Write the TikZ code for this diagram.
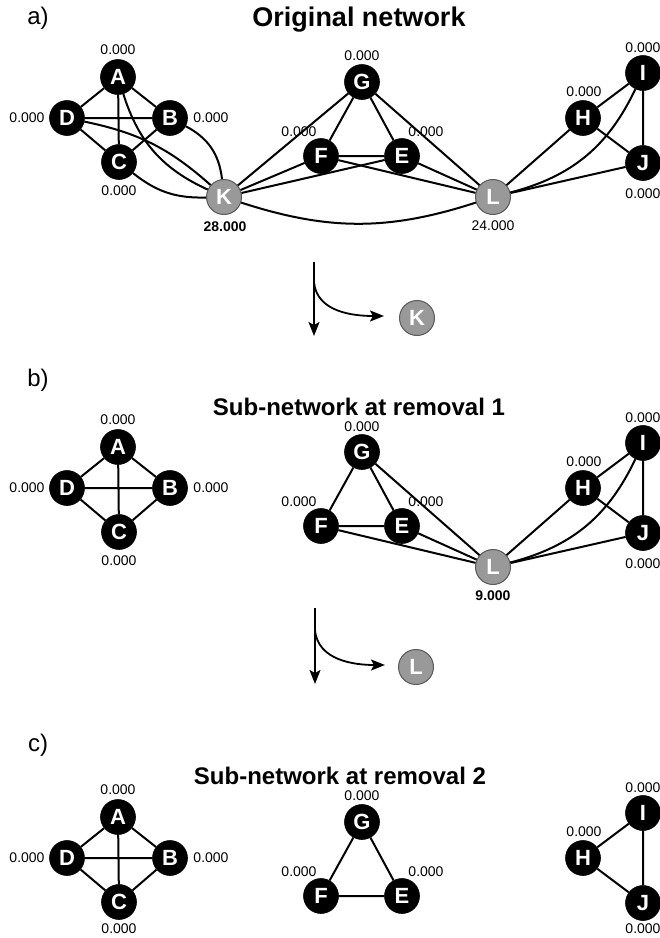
\documentclass[tikz,border=0pt]{standalone}
\usepackage{fontspec}
\setmainfont{Liberation Sans}
\usetikzlibrary{arrows.meta}
\begin{document}
\begin{tikzpicture}[x=1pt,y=1pt,
  vtx/.style={circle,fill=black,draw=black,line width=0.6pt,minimum size=35pt,
    inner sep=0pt,text=white,font=\fontsize{22}{22}\selectfont\bfseries},
  hub/.style={vtx,fill=black!40,draw=black!65,line width=1pt},
  val/.style={inner sep=0pt,font=\fontsize{14}{14}\selectfont},
  bval/.style={inner sep=0pt,font=\fontsize{14}{14}\selectfont\bfseries},
  link/.style={line width=2pt},
  ttl/.style={inner sep=0pt,font=\fontsize{24}{24}\selectfont\bfseries},
  tag/.style={inner sep=0pt,font=\fontsize{24}{24}\selectfont},
  flow/.style={line width=1.8pt,-{Stealth[length=14pt,width=11pt,inset=3pt]}}
]
\useasboundingbox (0,0) rectangle (660,-938);

% ---------------- a) original network ----------------
\node[tag] (ta) at (38,-18) {a)};
\node[ttl,font=\fontsize{27}{27}\selectfont\bfseries] (Ta) at (359,-20) {Original network};

\node[vtx] (aA) at (118,-77) {A};
\node[vtx] (aD) at (67,-118) {D};
\node[vtx] (aB) at (170,-118) {B};
\node[vtx] (aC) at (119,-162) {C};
\node[vtx] (aG) at (362,-82) {G};
\node[vtx] (aF) at (321,-156) {F};
\node[vtx] (aE) at (402,-156) {E};
\node[vtx] (aH) at (583,-118) {H};
\node[vtx] (aI) at (643,-73) {I};
\node[vtx] (aJ) at (643,-163) {J};
\node[hub] (aK) at (224,-197) {K};
\node[hub] (aL) at (493,-197) {L};

\node[val] (laA) at (118,-50) {0.000};
\node[val] (laD) at (27,-118) {0.000};
\node[val] (laB) at (211,-118) {0.000};
\node[val] (laC) at (119,-191) {0.000};
\node[val] (laG) at (362,-56) {0.000};
\node[val] (laF) at (299,-132) {0.000};
\node[val] (laE) at (426,-132) {0.000};
\node[val] (laH) at (584,-92) {0.000};
\node[val] (laI) at (643,-48) {0.000};
\node[val] (laJ) at (643,-194) {0.000};
\node[bval] (laK) at (225,-227) {28.000};
\node[val] (laL) at (493,-226) {24.000};

\draw[link] (aA) -- (aD) (aA) -- (aB) (aA) -- (aC)
            (aD) -- (aB) (aD) -- (aC) (aB) -- (aC);
\draw[link] (aA) to[bend right=24] (aK);
\draw[link] (aD) to[bend left=15] (aK);
\draw[link] (aB) to[bend left=28] (aK);
\draw[link] (aC) to[bend right=20] (aK);
\draw[link] (aK) -- (aG) (aK) -- (aF) (aK) -- (aE);
\draw[link] (aK) to[bend right=18] (aL);
\draw[link] (aG) -- (aF) (aG) -- (aE) (aF) -- (aE)
            (aG) -- (aL) (aF) -- (aL) (aE) -- (aL);
\draw[link] (aL) -- (aH) (aL) -- (aJ);
\draw[link] (aL) to[bend right=25] (aI);
\draw[link] (aH) -- (aI) (aH) -- (aJ) (aI) -- (aJ);

% ---------------- removal of K ----------------
\coordinate (s1) at (314,-262);
\coordinate (e1) at (314,-336);
\coordinate (f1) at (314,-282);
\coordinate (g1) at (384,-316);
\node[hub] (xK) at (417,-318) {K};
\draw[flow] (s1) -- (e1);
\draw[flow] (f1) to[out=-85,in=180] (g1);

% ---------------- b) after first removal ----------------
\node[tag] (tb) at (38,-380) {b)};
\node[ttl] (Tb) at (359,-407) {Sub-network at removal 1};

\node[vtx] (bA) at (118,-447) {A};
\node[vtx] (bD) at (67,-488) {D};
\node[vtx] (bB) at (170,-488) {B};
\node[vtx] (bC) at (119,-532) {C};
\node[vtx] (bG) at (362,-452) {G};
\node[vtx] (bF) at (321,-526) {F};
\node[vtx] (bE) at (402,-526) {E};
\node[vtx] (bH) at (583,-488) {H};
\node[vtx] (bI) at (643,-443) {I};
\node[vtx] (bJ) at (643,-533) {J};
\node[hub] (bL) at (493,-567) {L};

\node[val] (lbA) at (118,-420) {0.000};
\node[val] (lbD) at (27,-488) {0.000};
\node[val] (lbB) at (211,-488) {0.000};
\node[val] (lbC) at (119,-561) {0.000};
\node[val] (lbG) at (362,-427) {0.000};
\node[val] (lbF) at (299,-502) {0.000};
\node[val] (lbE) at (426,-502) {0.000};
\node[val] (lbH) at (584,-462) {0.000};
\node[val] (lbI) at (643,-418) {0.000};
\node[val] (lbJ) at (643,-564) {0.000};
\node[bval] (lbL) at (493,-596) {9.000};

\draw[link] (bA) -- (bD) (bA) -- (bB) (bA) -- (bC)
            (bD) -- (bB) (bD) -- (bC) (bB) -- (bC);
\draw[link] (bG) -- (bF) (bG) -- (bE) (bF) -- (bE)
            (bG) -- (bL) (bF) -- (bL) (bE) -- (bL);
\draw[link] (bL) -- (bH) (bL) -- (bJ);
\draw[link] (bL) to[bend right=25] (bI);
\draw[link] (bH) -- (bI) (bH) -- (bJ) (bI) -- (bJ);

% ---------------- removal of L ----------------
\coordinate (s2) at (315,-608);
\coordinate (e2) at (315,-684);
\coordinate (f2) at (315,-630);
\coordinate (g2) at (385,-665);
\node[hub] (xL) at (416,-667) {L};
\draw[flow] (s2) -- (e2);
\draw[flow] (f2) to[out=-85,in=180] (g2);

% ---------------- c) after second removal ----------------
\node[tag] (tc) at (38,-745) {c)};
\node[ttl] (Tc) at (340,-776) {Sub-network at removal 2};

\node[vtx] (cA) at (118,-817) {A};
\node[vtx] (cD) at (67,-858) {D};
\node[vtx] (cB) at (170,-858) {B};
\node[vtx] (cC) at (119,-902) {C};
\node[vtx] (cG) at (362,-822) {G};
\node[vtx] (cF) at (321,-896) {F};
\node[vtx] (cE) at (402,-896) {E};
\node[vtx] (cH) at (583,-858) {H};
\node[vtx] (cI) at (643,-813) {I};
\node[vtx] (cJ) at (643,-903) {J};

\node[val] (lcA) at (118,-790) {0.000};
\node[val] (lcD) at (27,-858) {0.000};
\node[val] (lcB) at (211,-858) {0.000};
\node[val] (lcC) at (119,-929) {0.000};
\node[val] (lcG) at (362,-796) {0.000};
\node[val] (lcF) at (299,-872) {0.000};
\node[val] (lcE) at (426,-872) {0.000};
\node[val] (lcH) at (584,-832) {0.000};
\node[val] (lcI) at (643,-788) {0.000};
\node[val] (lcJ) at (643,-929) {0.000};

\draw[link] (cA) -- (cD) (cA) -- (cB) (cA) -- (cC)
            (cD) -- (cB) (cD) -- (cC) (cB) -- (cC);
\draw[link] (cG) -- (cF) (cG) -- (cE) (cF) -- (cE);
\draw[link] (cH) -- (cI) (cH) -- (cJ) (cI) -- (cJ);
\end{tikzpicture}
\end{document}
